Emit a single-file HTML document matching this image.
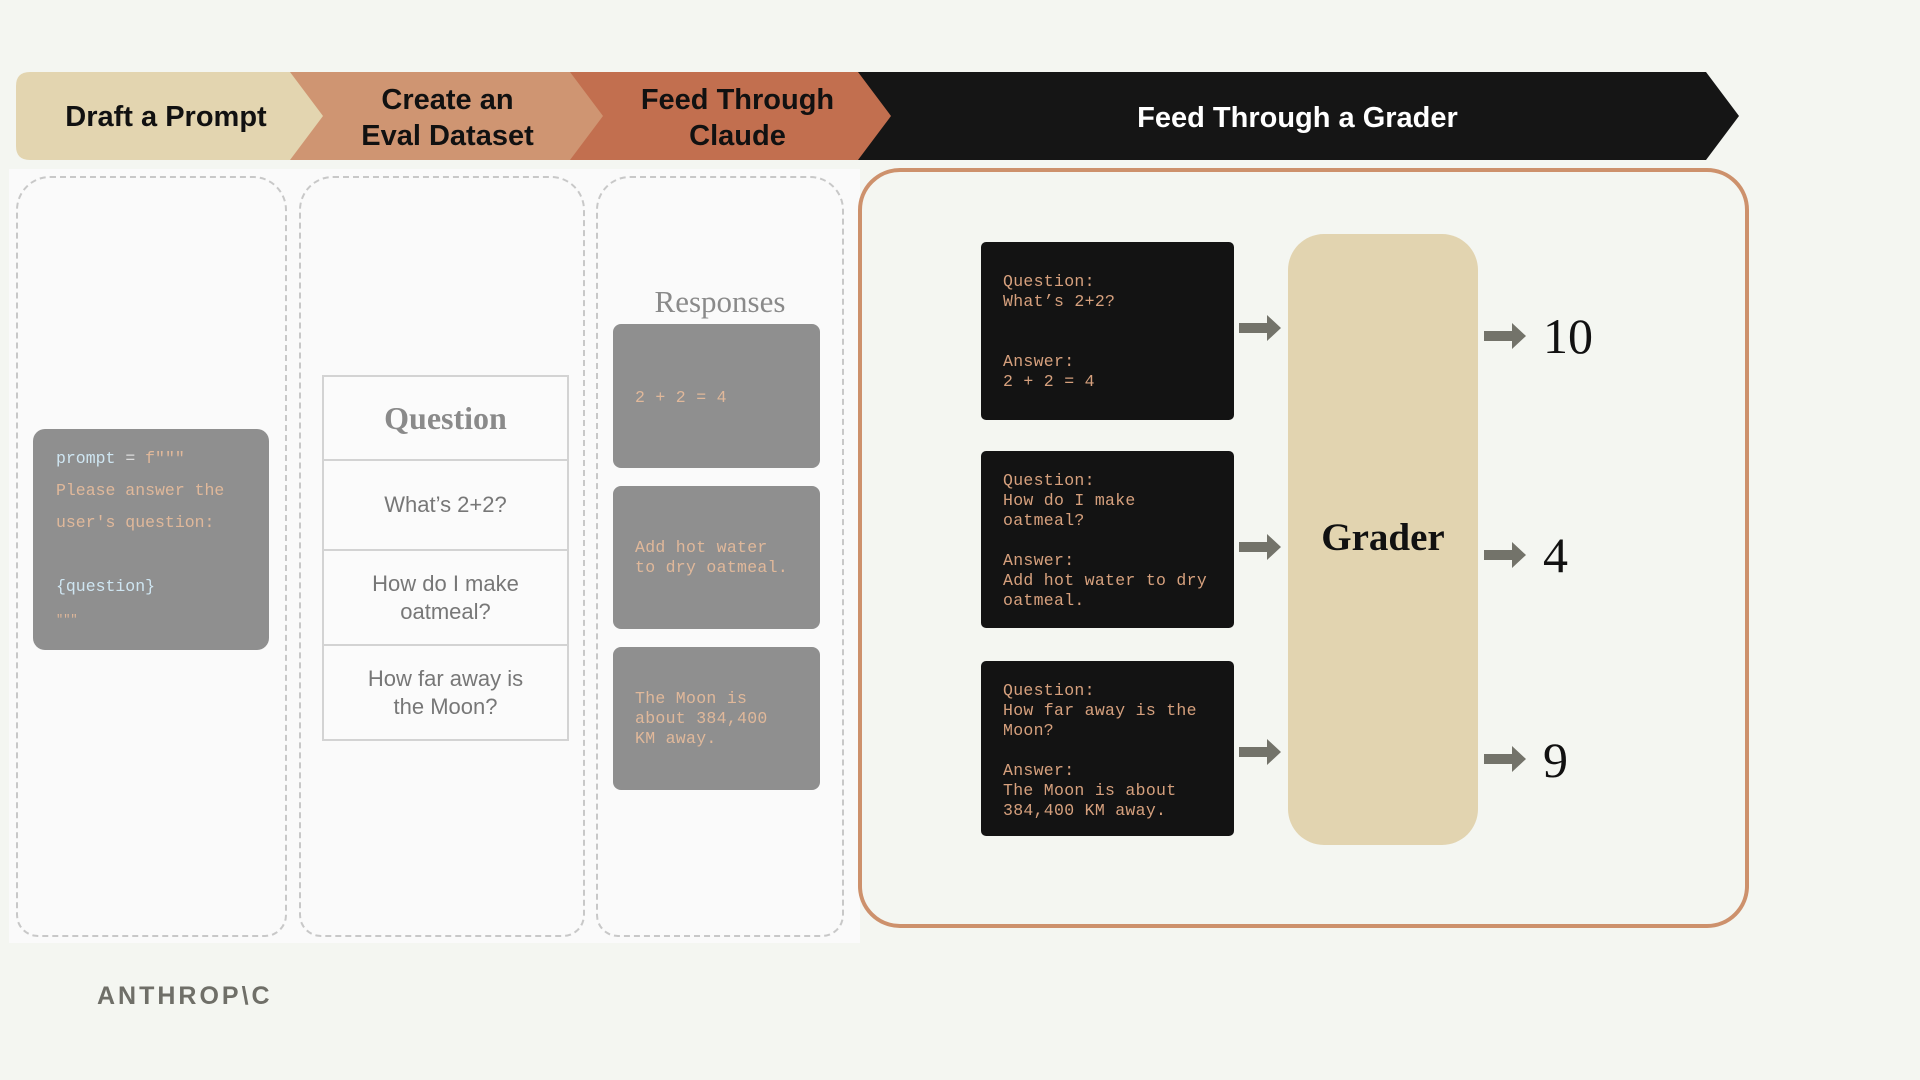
<!DOCTYPE html>
<html><head><meta charset="utf-8"><style>
*{margin:0;padding:0;box-sizing:border-box}
body{width:1920px;height:1080px;background:#f4f6f1;position:relative;overflow:hidden;font-family:"Liberation Sans",sans-serif}
.a{position:absolute}
.dash{position:absolute;border:2px dashed #c8c8c8;border-radius:34px 34px 22px 22px}
.mono{font-family:"Liberation Mono",monospace}
.blk{position:absolute;background:#131313;border-radius:5px;color:#d6a07d;font-family:"Liberation Mono",monospace;font-size:16.5px;line-height:20px;padding:30px 0 0 22px;letter-spacing:0.3px}
.resp{position:absolute;left:613px;width:207px;background:#8f8f8f;border-radius:8px;color:#e0b89a;font-family:"Liberation Mono",monospace;font-size:16.5px;line-height:20px;padding-left:22px;letter-spacing:0.3px}
.cell{position:absolute;left:322px;width:247px;border:2px solid #d3d3d3;background:#fbfbfb;color:#777;font-size:22px;text-align:center;display:flex;align-items:center;justify-content:center;line-height:28px}
.num{position:absolute;left:1543px;font-family:"Liberation Serif",serif;font-size:50px;color:#111}
</style></head><body>
<div class="a" style="left:9px;top:169px;width:851px;height:774px;background:#fafafa"></div>
<svg class="a" style="left:0;top:0" width="1920" height="200">
<path d="M857 72 H1706 L1739 116 L1706 160 H857 Z" fill="#151515"/>
<path d="M569 72 H858 L891 116 L858 160 H569 L602 116 Z" fill="#c26f4f"/>
<path d="M288 72 H570 L603 116 L570 160 H288 L322 116 Z" fill="#cf9572"/>
<path d="M30 72 H290 L323 116 L290 160 H30 Q16 160 16 146 V86 Q16 72 30 72 Z" fill="#e3d5b0"/>
</svg>
<div class="a" style="left:16px;top:101px;width:300px;text-align:center;font-weight:bold;font-size:29px;color:#111">Draft a Prompt</div>
<div class="a" style="left:300px;top:82px;width:295px;text-align:center;font-weight:bold;font-size:29px;line-height:36px;color:#111">Create an<br>Eval Dataset</div>
<div class="a" style="left:590px;top:82px;width:295px;text-align:center;font-weight:bold;font-size:29px;line-height:36px;color:#111">Feed Through<br>Claude</div>
<div class="a" style="left:880px;top:102px;width:835px;text-align:center;font-weight:bold;font-size:29px;color:#fff">Feed Through a Grader</div>

<div class="dash" style="left:16px;top:176px;width:271px;height:761px"></div>
<div class="dash" style="left:299px;top:176px;width:286px;height:761px"></div>
<div class="dash" style="left:596px;top:176px;width:248px;height:761px"></div>

<div class="a mono" style="left:33px;top:429px;width:236px;height:221px;background:#8f8f8f;border-radius:12px;padding:14px 0 0 23px;font-size:16.5px;line-height:32px;color:#e0b89a">
<span style="color:#cfe6f2">prompt</span> <span style="color:#ddd">=</span> f"""<br>Please answer the<br>user's question:<br><br><span style="color:#cfe6f2">{question}</span><br><span style="font-size:12px;line-height:16px">"""</span></div>

<div class="cell" style="top:375px;height:86px;font-family:'Liberation Serif',serif;font-weight:bold;font-size:32px;color:#8a8a8a">Question</div>
<div class="cell" style="top:459px;height:92px">What’s 2+2?</div>
<div class="cell" style="top:549px;height:97px">How do I make<br>oatmeal?</div>
<div class="cell" style="top:644px;height:97px">How far away is<br>the Moon?</div>

<div class="a" style="left:596px;top:284px;width:248px;text-align:center;font-family:'Liberation Serif',serif;font-size:31px;color:#8a8a8a">Responses</div>
<div class="resp" style="top:324px;height:144px;padding-top:64px">2 + 2 = 4</div>
<div class="resp" style="top:486px;height:143px;padding-top:52px">Add hot water<br>to dry oatmeal.</div>
<div class="resp" style="top:647px;height:143px;padding-top:42px">The Moon is<br>about 384,400<br>KM away.</div>

<div class="a" style="left:858px;top:168px;width:891px;height:760px;border:4px solid #cd916c;border-radius:42px"></div>

<div class="blk" style="left:981px;top:242px;width:253px;height:178px">Question:<br>What’s 2+2?<br><br><br>Answer:<br>2 + 2 = 4</div>
<div class="blk" style="left:981px;top:451px;width:253px;height:177px;padding-top:20px">Question:<br>How do I make<br>oatmeal?<br><br>Answer:<br>Add hot water to dry<br>oatmeal.</div>
<div class="blk" style="left:981px;top:661px;width:253px;height:175px;padding-top:20px">Question:<br>How far away is the<br>Moon?<br><br>Answer:<br>The Moon is about<br>384,400 KM away.</div>

<div class="a" style="left:1288px;top:234px;width:190px;height:611px;background:#e2d4b0;border-radius:36px"></div>
<div class="a" style="left:1288px;top:515px;width:190px;text-align:center;font-family:'Liberation Serif',serif;font-weight:bold;font-size:39px;color:#111">Grader</div>

<svg class="a" style="left:0;top:0" width="1920" height="1080">
<g fill="#73736a">
<path d="M1239 323 h28 v-8 l14 13 l-14 13 v-8 h-28 z"/>
<path d="M1239 542 h28 v-8 l14 13 l-14 13 v-8 h-28 z"/>
<path d="M1239 747 h28 v-8 l14 13 l-14 13 v-8 h-28 z"/>
<path d="M1484 331 h28 v-8 l14 13 l-14 13 v-8 h-28 z"/>
<path d="M1484 550 h28 v-8 l14 13 l-14 13 v-8 h-28 z"/>
<path d="M1484 754 h28 v-8 l14 13 l-14 13 v-8 h-28 z"/>
</g></svg>
<div class="num" style="top:307px">10</div>
<div class="num" style="top:526px">4</div>
<div class="num" style="top:731px">9</div>

<div class="a" style="left:97px;top:982px;font-weight:bold;font-size:25px;letter-spacing:3px;color:#6f6f68">ANTHROP\C</div>
</body></html>
